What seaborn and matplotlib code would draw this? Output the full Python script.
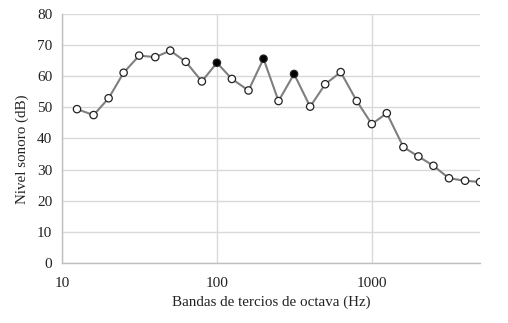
import matplotlib
matplotlib.use("Agg")
import matplotlib.pyplot as plt
import matplotlib.ticker as mticker
import seaborn as sns
import pandas as pd

# Third-octave band centre frequencies (Hz)
bands = [12.5, 16, 20, 25, 31.5, 40, 50, 63, 80, 100, 125, 160, 200, 250,
         315, 400, 500, 630, 800, 1000, 1250, 1600, 2000, 2500, 3150, 4000, 5000]
# Sound level (dB)
levels = [49.4, 47.5, 52.9, 61.1, 66.6, 66.1, 68.2, 64.6, 58.3, 64.3, 59.1, 55.4, 65.6, 52.0,
          60.7, 50.2, 57.4, 61.3, 52.0, 44.6, 48.1, 37.2, 34.2, 31.2, 27.2, 26.4, 26.0]
# bands highlighted with filled markers
highlighted = [100, 200, 315]

df = pd.DataFrame({'freq': bands, 'level': levels})
df['filled'] = df['freq'].isin(highlighted)

sns.set_style("white")
plt.rcParams['font.family'] = ['Liberation Serif', 'DejaVu Serif']

fig = plt.figure(figsize=(5.08, 3.23), dpi=100)
ax = fig.add_axes([0.122, 0.186, 0.823, 0.771])

sns.lineplot(data=df, x='freq', y='level', color='#7f7f7f', linewidth=1.5, ax=ax, zorder=2)
sns.scatterplot(data=df, x='freq', y='level', hue='filled',
                palette={False: 'white', True: 'black'}, edgecolor='#222222',
                linewidth=0.9, s=28, legend=False, ax=ax, zorder=3)

ax.set_xscale('log')
ax.set_xlim(10, 5000)
ax.set_ylim(0, 80)
ax.set_yticks(range(0, 81, 10))
ax.set_xticks([10, 100, 1000])
ax.xaxis.set_major_formatter(mticker.FuncFormatter(lambda v, p: f'{int(v)}'))
ax.xaxis.set_minor_locator(mticker.NullLocator())

ax.grid(True, color='#d9d9d9', linewidth=1.0)
ax.set_axisbelow(True)
for s in ['top', 'right']:
    ax.spines[s].set_visible(False)
for s in ['left', 'bottom']:
    ax.spines[s].set_color('#bfbfbf')
    ax.spines[s].set_linewidth(1.0)
ax.tick_params(length=0, labelsize=11, colors='#222222')
ax.tick_params(axis='x', pad=10)
ax.tick_params(axis='y', pad=7)

ax.set_xlabel('Bandas de tercios de octava (Hz)', fontsize=10.8, color='#222222', labelpad=4)
ax.set_ylabel('Nivel sonoro (dB)', fontsize=10.8, color='#222222')
ax.yaxis.set_label_coords(-0.08, 0.455)

plt.savefig('out.png', dpi=100)
